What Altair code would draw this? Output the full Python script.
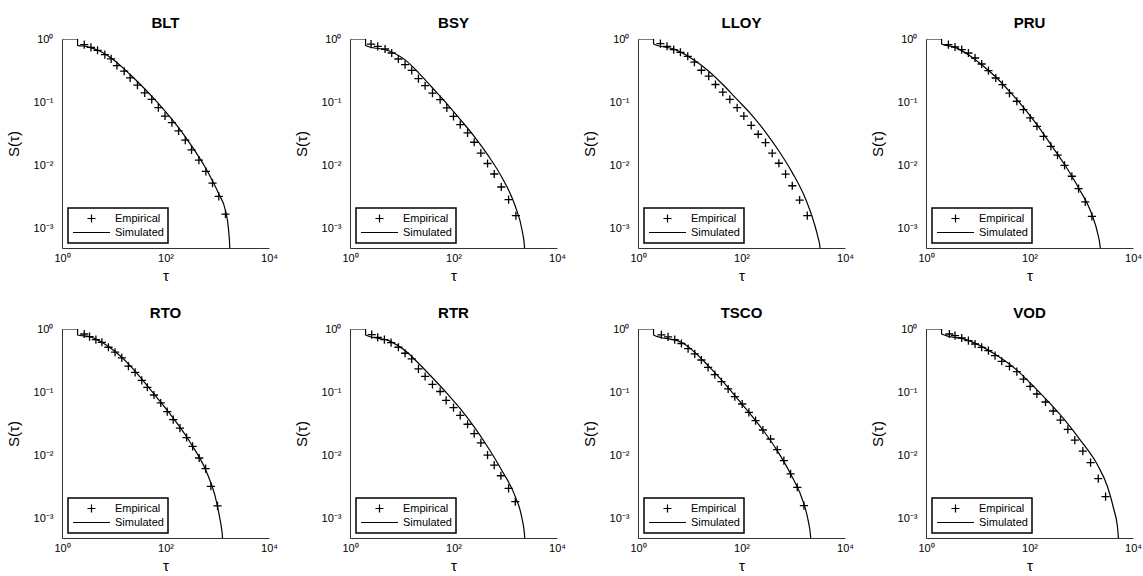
import altair as alt
import pandas as pd

TICKERS = ["BLT", "BSY", "LLOY", "PRU", "RTO", "RTR", "TSCO", "VOD"]

# ---------------- Empirical survival points (tau, S) ----------------
BLT_EMP_TAU = [2.69, 3.62, 4.86, 6.73, 8.91, 11.5, 15.9, 20.7, 28.7, 39.7, 54.2, 72.8, 97.8, 133, 179, 241, 319, 442, 603, 810, 1072, 1442]
BLT_EMP_S = [0.814, 0.739, 0.663, 0.567, 0.485, 0.381, 0.310, 0.243, 0.187, 0.141, 0.111, 0.0822, 0.0607, 0.0477, 0.0353, 0.0252, 0.0177, 0.0122, 0.00809, 0.00530, 0.00327, 0.00172]

BSY_EMP_TAU = [2.55, 3.43, 4.76, 6.4, 8.6, 11.6, 15.6, 21.0, 28.3, 39.2, 55.2, 74.3, 100, 135, 187, 251, 338, 455, 612, 837, 1161, 1607]
BSY_EMP_S = [0.83, 0.766, 0.695, 0.601, 0.483, 0.393, 0.320, 0.237, 0.183, 0.140, 0.110, 0.0814, 0.0601, 0.0444, 0.0328, 0.0234, 0.0158, 0.0108, 0.00738, 0.00460, 0.00290, 0.00162]

LLOY_EMP_TAU = [2.71, 3.64, 4.90, 6.6, 9.15, 12.3, 16.8, 23.3, 31.4, 43.5, 59.5, 82.4, 111, 154, 210, 291, 392, 528, 711, 957, 1327, 1866]
LLOY_EMP_S = [0.845, 0.767, 0.680, 0.617, 0.533, 0.430, 0.321, 0.259, 0.191, 0.145, 0.111, 0.0822, 0.0607, 0.0433, 0.0313, 0.0231, 0.0157, 0.0109, 0.00734, 0.00481, 0.00286, 0.00162]

PRU_EMP_TAU = [2.71, 3.64, 4.90, 6.6, 8.88, 11.9, 16.1, 22.3, 30.0, 41.0, 56.9, 76.5, 103, 139, 187, 259, 348, 476, 659, 888, 1195, 1607]
PRU_EMP_S = [0.814, 0.748, 0.679, 0.601, 0.501, 0.403, 0.316, 0.242, 0.190, 0.140, 0.104, 0.0766, 0.0566, 0.0418, 0.0290, 0.0202, 0.0146, 0.0101, 0.00679, 0.00433, 0.00267, 0.00158]

RTO_EMP_TAU = [2.69, 3.41, 4.52, 5.9, 7.9, 10.6, 14.3, 19.2, 25.9, 34.8, 44.6, 60, 80.9, 108, 141, 190, 256, 334, 448, 595, 753, 1013]
RTO_EMP_S = [0.834, 0.757, 0.679, 0.617, 0.515, 0.430, 0.350, 0.259, 0.206, 0.154, 0.120, 0.0907, 0.0679, 0.0495, 0.0371, 0.0272, 0.0193, 0.0140, 0.00917, 0.00622, 0.00328, 0.00161]

RTR_EMP_TAU = [2.63, 3.43, 4.62, 6.22, 8.62, 11.6, 15.6, 21.0, 28.3, 39.2, 55.2, 72.1, 100, 135, 187, 251, 338, 455, 612, 824, 1161, 1563]
RTR_EMP_S = [0.814, 0.739, 0.680, 0.610, 0.515, 0.414, 0.337, 0.235, 0.178, 0.133, 0.103, 0.0746, 0.0572, 0.0433, 0.0313, 0.0223, 0.0159, 0.0102, 0.00708, 0.00481, 0.00304, 0.00188]

TSCO_EMP_TAU = [2.83, 3.81, 5.12, 6.9, 9.29, 12.5, 16.8, 22.6, 30.5, 41.0, 55.2, 74.3, 103, 139, 187, 259, 364, 490, 659, 888, 1195, 1607]
TSCO_EMP_S = [0.81, 0.75, 0.68, 0.59, 0.49, 0.405, 0.324, 0.248, 0.190, 0.147, 0.113, 0.0855, 0.0654, 0.0483, 0.0357, 0.0254, 0.0183, 0.0124, 0.00834, 0.00514, 0.00316, 0.00162]

VOD_EMP_TAU = [2.83, 3.64, 4.90, 6.6, 8.88, 11.9, 16.1, 21.6, 29.1, 41.0, 56.9, 76.5, 103, 139, 204, 287, 397, 550, 751, 1073, 1513, 2133, 2951]
VOD_EMP_S = [0.834, 0.785, 0.721, 0.654, 0.580, 0.514, 0.455, 0.379, 0.309, 0.257, 0.212, 0.162, 0.124, 0.0941, 0.0703, 0.0507, 0.0365, 0.0260, 0.0176, 0.0118, 0.00775, 0.00433, 0.00225]

# ---------------- Simulated survival curves (tau, S) ----------------
BLT_SIM_TAU = [1, 2, 2.0001, 3.03, 5.47, 8.9, 20.7, 54, 98, 179, 319, 603, 1072, 1442, 1648, 1747, 1790]
BLT_SIM_S = [1, 1, 0.795, 0.76, 0.64, 0.50, 0.275, 0.125, 0.0728, 0.0398, 0.0205, 0.00901, 0.00356, 0.00195, 0.001, 0.000515, 0.0003]

BSY_SIM_TAU = [1, 2, 2.0001, 5.9, 11.6, 21, 39, 74, 135, 251, 455, 837, 1563, 2100, 2367, 2420]
BSY_SIM_S = [1, 1, 0.79, 0.64, 0.468, 0.295, 0.17, 0.0955, 0.0537, 0.029, 0.0149, 0.00679, 0.00228, 0.00098, 0.0005, 0.0003]

LLOY_SIM_TAU = [1, 2, 2.0001, 5.3, 12.3, 23.3, 43.5, 82, 154, 291, 528, 957, 1733, 2512, 3050, 3280, 3350]
LLOY_SIM_S = [1, 1, 0.835, 0.68, 0.46, 0.31, 0.191, 0.111, 0.0646, 0.0339, 0.0170, 0.00776, 0.00297, 0.00127, 0.0007, 0.00052, 0.0003]

PRU_SIM_TAU = [1, 2, 2.0001, 3.64, 6.6, 11.9, 22.3, 41, 76.5, 139, 259, 476, 888, 1607, 2070, 2333, 2400]
PRU_SIM_S = [1, 1, 0.834, 0.738, 0.566, 0.393, 0.251, 0.149, 0.0834, 0.0444, 0.0215, 0.0104, 0.00444, 0.00168, 0.00086, 0.0005, 0.0003]

RTO_SIM_TAU = [1, 2, 2.0001, 3.41, 5.9, 10.6, 19.2, 32.3, 67.7, 141, 297, 622, 899, 1122, 1210, 1254, 1290]
RTO_SIM_S = [1, 1, 0.805, 0.757, 0.617, 0.44, 0.282, 0.174, 0.0834, 0.039, 0.0164, 0.00552, 0.00237, 0.00102, 0.00071, 0.00055, 0.0003]

RTR_SIM_TAU = [1, 2, 2.0001, 6.2, 11.6, 21, 39.2, 74, 135, 251, 455, 837, 1563, 2100, 2367, 2420]
RTR_SIM_S = [1, 1, 0.805, 0.632, 0.456, 0.288, 0.170, 0.0973, 0.0551, 0.0284, 0.0138, 0.00605, 0.00225, 0.00103, 0.00054, 0.0003]

TSCO_SIM_TAU = [1, 2, 2.0001, 6.9, 12.5, 22.6, 41, 74.3, 139, 259, 490, 888, 1607, 1945, 2163, 2220]
TSCO_SIM_S = [1, 1, 0.805, 0.616, 0.428, 0.264, 0.157, 0.0886, 0.0483, 0.0254, 0.012, 0.00514, 0.00173, 0.00094, 0.00053, 0.0003]

VOD_SIM_TAU = [1, 2, 2.0001, 6.6, 21.6, 56.9, 103, 204, 460, 968, 2039, 3184, 4272, 4977, 5500]
VOD_SIM_S = [1, 1, 0.834, 0.66, 0.398, 0.224, 0.141, 0.0794, 0.038, 0.0174, 0.00724, 0.00331, 0.00141, 0.00078, 0.0003]

EMP = {
    "BLT": (BLT_EMP_TAU, BLT_EMP_S), "BSY": (BSY_EMP_TAU, BSY_EMP_S),
    "LLOY": (LLOY_EMP_TAU, LLOY_EMP_S), "PRU": (PRU_EMP_TAU, PRU_EMP_S),
    "RTO": (RTO_EMP_TAU, RTO_EMP_S), "RTR": (RTR_EMP_TAU, RTR_EMP_S),
    "TSCO": (TSCO_EMP_TAU, TSCO_EMP_S), "VOD": (VOD_EMP_TAU, VOD_EMP_S),
}
SIM = {
    "BLT": (BLT_SIM_TAU, BLT_SIM_S), "BSY": (BSY_SIM_TAU, BSY_SIM_S),
    "LLOY": (LLOY_SIM_TAU, LLOY_SIM_S), "PRU": (PRU_SIM_TAU, PRU_SIM_S),
    "RTO": (RTO_SIM_TAU, RTO_SIM_S), "RTR": (RTR_SIM_TAU, RTR_SIM_S),
    "TSCO": (TSCO_SIM_TAU, TSCO_SIM_S), "VOD": (VOD_SIM_TAU, VOD_SIM_S),
}

X_TICKS = [1, 100, 10000]
Y_TICKS = [0.001, 0.01, 0.1, 1]
SERIES = ["Empirical", "Simulated"]

FONT = "Liberation Sans"
PLUS = "M-0.22,0L0.22,0M0,-0.22L0,0.22"
DASH = "M-1,0L1,0"
SYM = 1369
W, H = 207, 209

x_label = "datum.value >= 5000 ? '10⁴' : datum.value >= 50 ? '10²' : '10⁰'"
y_label = ("datum.value >= 0.5 ? '10⁰' : datum.value >= 0.05 ? '10⁻¹' : "
           "datum.value >= 0.005 ? '10⁻²' : '10⁻³'")


def panel(name):
    et, es = EMP[name]
    st, ss = SIM[name]
    emp = pd.DataFrame({"tau": et, "S": es, "series": ["Empirical"] * len(et)})
    sim = pd.DataFrame({"tau": st, "S": ss})
    xs = alt.Scale(type="log", domain=[1, 10000], nice=False)
    ys = alt.Scale(type="log", domain=[0.0005, 1], nice=False)
    xax = alt.Axis(values=X_TICKS, labelExpr=x_label, title="τ", labelFlush=False,
                   labelPadding=4, titlePadding=5)
    yax = alt.Axis(values=Y_TICKS, labelExpr=y_label, title="S(τ)", labelFlush=False,
                   labelPadding=9, titlePadding=12)
    line = alt.Chart(sim).mark_line(color="black", strokeWidth=1.2, clip=True,
                                    interpolate="monotone").encode(
        x=alt.X("tau:Q", scale=xs, axis=xax),
        y=alt.Y("S:Q", scale=ys, axis=yax),
    )
    pts = alt.Chart(emp).mark_point(filled=False, color="black", strokeWidth=1.3,
                                    size=SYM, opacity=1, clip=True).encode(
        x=alt.X("tau:Q", scale=xs, axis=xax),
        y=alt.Y("S:Q", scale=ys, axis=yax),
        shape=alt.Shape("series:N",
                        scale=alt.Scale(domain=SERIES, range=[PLUS, DASH]),
                        legend=alt.Legend(
                            title=None, orient="none", legendX=6, legendY=169,
                            direction="vertical", symbolSize=SYM,
                            symbolStrokeWidth=1.2, symbolStrokeColor="black",
                            symbolFillColor="transparent", symbolOpacity=1,
                            labelFont=FONT, labelFontSize=11, labelColor="black",
                            labelOffset=4, padding=4, rowPadding=1, clipHeight=13,
                            strokeColor="black", fillColor="white",
                            symbolOffset=0)),
    )
    return alt.layer(line, pts).properties(width=W, height=H, title=name)


panels = [panel(t) for t in TICKERS]

chart = (
    alt.concat(*panels, columns=4, spacing=81, bounds="flush")
    .resolve_scale(shape="independent")
    .resolve_legend(shape="independent")
    .properties(padding={"left": 6, "top": 16, "right": 0, "bottom": 0},
                background="white")
    .configure_view(stroke=None)
    .configure_axis(domainColor="#333333", domainWidth=1, ticks=False, grid=False,
                    labelFont=FONT, labelFontSize=11, labelColor="black",
                    titleFont=FONT, titleFontSize=15, titleFontWeight="normal",
                    titleColor="black")
    .configure_title(font=FONT, fontSize=15, fontWeight="bold", color="black",
                     offset=2, anchor="middle")
    .configure_legend(strokeWidth=1.5)
)

chart.save("out.html", embed_options={"renderer": "svg", "actions": False})
